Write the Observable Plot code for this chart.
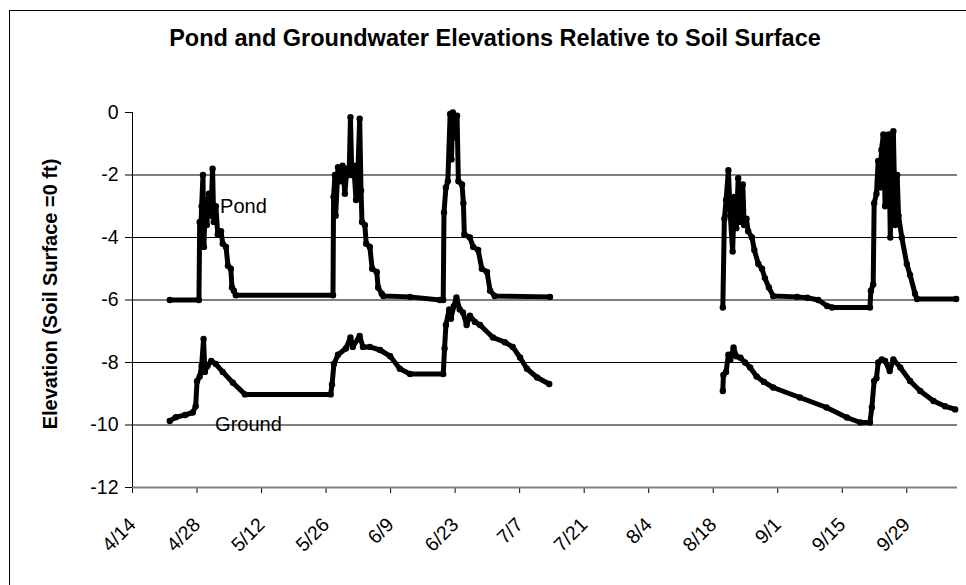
<!DOCTYPE html>
<html>
<head>
<meta charset="utf-8">
<script src="https://cdn.jsdelivr.net/npm/d3@7"></script>
<script src="https://cdn.jsdelivr.net/npm/@observablehq/plot@0.6"></script>
<style>
  html, body { margin: 0; padding: 0; background: #fff; overflow: hidden; }
  #wrap { position: relative; width: 966px; height: 585px; overflow: hidden; font-family: "Liberation Sans", Arial, sans-serif; }
  #border { position: absolute; left: 9px; top: 10px; width: 990px; height: 600px; border: 1px solid #000; box-sizing: border-box; pointer-events: none; }
  #title { position: absolute; left: 0; top: 27px; width: 990px; text-align: center; font-weight: bold; font-size: 23.5px; line-height: 23.5px; white-space: nowrap; }
  #ylabel { position: absolute; left: 50px; top: 294px; transform: translate(-50%, -50%) rotate(-90deg); font-weight: bold; font-size: 20px; white-space: nowrap; }
  #chart { position: absolute; left: 0; top: 0; }
</style>
</head>
<body>
<div id="wrap">
  <div id="chart"></div>
  <div id="border"></div>
  <div id="title">Pond and Groundwater Elevations Relative to Soil Surface</div>
  <div id="ylabel">Elevation (Soil Surface =0 ft)</div>
</div>
<script>
// ---- Data ----
const pond1Dates = ["04/22 02","04/28 10","04/28 14","04/28 19","04/29 00","04/29 07","04/29 12","04/29 19","04/30 03","04/30 14","05/01 00","05/01 09","05/01 15","05/02 02","05/02 12","05/03 05","05/03 14","05/04 07","05/04 17","05/05 08","05/05 14","05/06 00","05/06 10","05/27 12","05/27 15","05/27 22","05/28 02","05/28 14","05/29 05","05/29 14","05/30 02","05/30 12","05/31 00","05/31 07","05/31 14","06/01 00","06/01 12","06/01 22","06/02 07","06/02 14","06/02 19","06/03 10","06/03 17","06/04 12","06/05 00","06/06 00","06/06 07","06/07 02","06/07 10","06/13 05","06/19 17","06/20 10","06/20 14","06/21 00","06/21 10","06/21 22","06/22 05","06/22 12","06/23 00","06/23 10","06/23 17","06/24 12","06/24 19","06/25 00","06/26 05","06/26 22","06/28 00","06/28 19","06/29 22","06/30 14","07/01 14","07/13 14"];
const pond1Values = [-6.0,-6.0,-3.5,-3.9,-3.0,-2.0,-4.3,-2.8,-3.6,-2.6,-3.3,-1.8,-3.5,-3.0,-3.9,-3.8,-4.2,-4.3,-4.9,-5.0,-5.6,-5.7,-5.85,-5.85,-2.7,-2.0,-3.3,-1.75,-2.2,-1.7,-2.6,-1.8,-2.0,-0.15,-2.0,-1.7,-2.8,-1.8,-0.2,-2.5,-3.5,-3.6,-4.2,-4.3,-5.0,-5.1,-5.6,-5.8,-5.87,-5.9,-6.0,-6.0,-3.2,-2.4,-2.2,-0.05,-1.5,0.0,-0.8,-0.1,-2.2,-2.3,-2.9,-3.9,-4.0,-4.3,-4.4,-5.0,-5.1,-5.7,-5.87,-5.9];

const pond2Dates = ["08/20 02","08/20 10","08/20 19","08/21 07","08/21 17","08/22 05","08/22 14","08/23 00","08/23 10","08/23 17","08/24 02","08/24 10","08/24 17","08/25 05","08/25 14","08/26 10","08/26 22","08/27 19","08/28 14","08/29 05","08/30 02","08/31 00","09/05 05","09/07 10","09/09 19","09/11 17","09/12 19","09/21 00","09/21 05","09/21 17","09/21 22","09/22 10","09/22 19","09/23 05","09/23 12","09/23 22","09/24 07","09/24 17","09/25 02","09/25 10","09/25 19","09/26 02","09/26 12","09/26 22","09/27 05","09/27 22","09/29 00","09/29 17","09/30 19","10/01 05","10/09 17"];
const pond2Values = [-6.24,-3.4,-2.8,-1.85,-3.3,-4.45,-2.7,-3.7,-2.1,-3.5,-2.5,-2.3,-3.6,-3.4,-3.8,-4.0,-4.4,-4.85,-5.0,-5.3,-5.6,-5.87,-5.9,-5.93,-6.0,-6.19,-6.24,-6.24,-5.7,-5.5,-2.9,-2.6,-1.55,-2.4,-1.2,-0.7,-3.0,-1.5,-0.7,-4.0,-2.0,-0.6,-3.6,-2.0,-3.3,-4.0,-4.85,-5.2,-5.8,-5.97,-5.97];

const ground1Dates = ["04/22 02","04/23 10","04/25 10","04/27 02","04/27 17","04/28 00","04/28 14","04/29 00","04/29 10","04/29 17","04/30 07","05/01 02","05/02 02","05/03 14","05/05 19","05/08 10","05/27 00","05/27 07","05/27 17","05/28 14","05/30 07","05/31 07","05/31 19","06/02 07","06/03 00","06/04 12","06/06 17","06/08 22","06/11 00","06/13 05","06/20 10","06/20 17","06/21 00","06/21 17","06/22 02","06/22 17","06/23 07","06/24 00","06/24 17","06/25 12","06/26 05","06/27 07","06/28 10","07/01 05","07/03 19","07/05 12","07/07 02","07/08 14","07/10 19","07/13 10"];
const ground1Values = [-9.87,-9.75,-9.68,-9.6,-9.4,-8.6,-8.45,-8.1,-7.25,-8.3,-8.1,-7.95,-8.05,-8.3,-8.65,-9.02,-9.02,-8.7,-8.05,-7.75,-7.55,-7.2,-7.5,-7.15,-7.5,-7.5,-7.6,-7.8,-8.2,-8.37,-8.37,-7.55,-6.8,-6.3,-6.6,-6.2,-5.92,-6.3,-6.4,-6.8,-6.5,-6.7,-6.8,-7.2,-7.35,-7.5,-7.84,-8.2,-8.48,-8.69];

const ground2Dates = ["08/20 02","08/20 05","08/20 19","08/21 07","08/21 17","08/22 10","08/23 00","08/23 22","08/24 22","08/26 00","08/27 10","08/29 00","08/31 00","09/05 19","09/11 14","09/16 00","09/18 22","09/21 00","09/21 10","09/21 22","09/22 10","09/22 19","09/23 14","09/24 07","09/25 07","09/26 02","09/27 14","09/29 17","10/01 22","10/04 19","10/07 07","10/09 12"];
const ground2Values = [-8.91,-8.4,-8.3,-7.75,-7.9,-7.52,-7.8,-7.85,-8.0,-8.16,-8.45,-8.62,-8.8,-9.12,-9.44,-9.76,-9.92,-9.92,-9.44,-8.59,-8.5,-8.0,-7.9,-7.95,-8.27,-7.9,-8.16,-8.59,-8.91,-9.23,-9.4,-9.5];

const xTickLabels = ["4/14","4/28","5/12","5/26","6/9","6/23","7/7","7/21","8/4","8/18","9/1","9/15","9/29"];
const yTicks = [0, -2, -4, -6, -8, -10, -12];
const gridValues = [-2, -4, -6, -8, -10];
const xDomainLabels = ["4/14", "10/10"];

const seriesLabels = ["Pond", "Ground"];
const seriesLabelDates = ["05/03 00", "05/01 22"];
const seriesLabelValues = [-3.0, -10.0];

// ---- Build rows ----
const parseDT = d3.utcParse("%m/%d %H");
const parseD = d3.utcParse("%m/%d");
function rows(dates, values, key) {
  return dates.map((d, i) => ({date: parseDT(d), value: values[i], key}));
}
const data = [
  ...rows(pond1Dates, pond1Values, "pond1"),
  ...rows(pond2Dates, pond2Values, "pond2"),
  ...rows(ground1Dates, ground1Values, "ground1"),
  ...rows(ground2Dates, ground2Values, "ground2")
];
const labels = seriesLabels.map((t, i) => ({text: t, date: parseDT(seriesLabelDates[i]), value: seriesLabelValues[i]}));
const xTicks = xTickLabels.map(parseD);
const xDomain = xDomainLabels.map(parseD);

const chart = Plot.plot({
  width: 966,
  height: 585,
  marginTop: 112,
  marginBottom: 98,
  marginLeft: 132,
  marginRight: 9,
  style: {fontFamily: "'Liberation Sans', Arial, sans-serif", fontSize: "19.5px", color: "#000", background: "transparent"},
  x: {type: "utc", domain: xDomain, ticks: xTicks, tickFormat: d3.utcFormat("%-m/%-d"), tickRotate: -45, tickSize: 6, tickPadding: 28, label: null},
  y: {domain: [-12, 0], ticks: yTicks, tickFormat: d => String(d), tickSize: 7, tickPadding: 7, label: null},
  marks: [
    Plot.ruleY(gridValues, {stroke: "#000", strokeWidth: 1}),
    Plot.line(data, {x: "date", y: "value", z: "key", stroke: "#000", strokeWidth: 5, strokeLinejoin: "round", strokeLinecap: "round"}),
    Plot.dot(data, {x: "date", y: "value", r: 3.2, fill: "#000", stroke: "none"}),
    Plot.ruleY([-12], {stroke: "#808080", strokeWidth: 2}),
    Plot.ruleX([xDomain[0]], {stroke: "#000", strokeWidth: 1}),
    Plot.text(labels, {x: "date", y: "value", text: "text", textAnchor: "start", fontSize: 20, fill: "#000"})
  ]
});
document.getElementById("chart").appendChild(chart);
</script>
</body>
</html>
